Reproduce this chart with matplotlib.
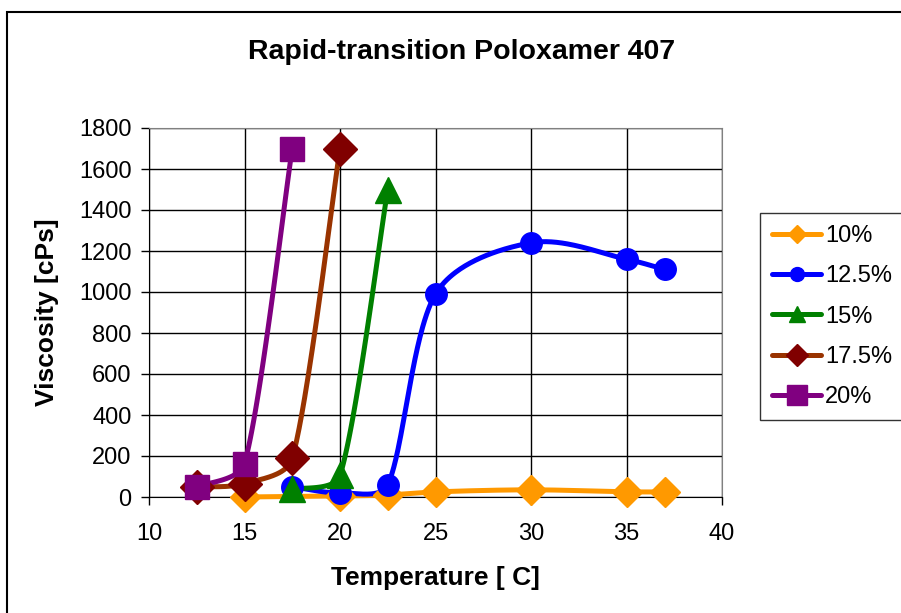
import numpy as np
import matplotlib
matplotlib.use("Agg")
import matplotlib.pyplot as plt
from matplotlib.patches import Rectangle

plt.rcParams['font.family'] = ['Liberation Sans', 'DejaVu Sans']

title = "Rapid-transition Poloxamer 407"
xlabel = "Temperature [ C]"
ylabel = "Viscosity [cPs]"

labels = ["10%", "12.5%", "15%", "17.5%", "20%"]
x_10 = [15, 20, 22.5, 25, 30, 35, 37]
y_10 = [0, 5, 10, 25, 35, 25, 25]
x_125 = [17.5, 20, 22.5, 25, 30, 35, 37]
y_125 = [50, 20, 60, 990, 1240, 1160, 1110]
x_15 = [17.5, 20, 22.5]
y_15 = [38, 105, 1500]
x_175 = [12.5, 15, 17.5, 20]
y_175 = [50, 65, 188, 1700]
x_20 = [12.5, 15, 17.5]
y_20 = [50, 163, 1700]

xticks = [10, 15, 20, 25, 30, 35, 40]
yticks = list(range(0, 2000, 200))

# (line colour, marker colour, marker, plot marker size, legend marker size)
series = [
    (x_10, y_10, '#FF9900', '#FF9900', 'D', 15, 9),
    (x_125, y_125, '#0000FF', '#0000FF', 'o', 15.5, 10),
    (x_15, y_15, '#008000', '#008000', '^', 19, 12),
    (x_175, y_175, '#993300', '#800000', 'D', 17, 11),
    (x_20, y_20, '#800080', '#800080', 's', 17, 14),
]

fig = plt.figure(figsize=(9.01, 6.13), dpi=100)
ax = fig.add_axes([149 / 901, 1 - 497 / 613, (722 - 149) / 901, (497 - 128) / 613])
ax.set_xlim(10, 40)
ax.set_ylim(0, 1800)


def smooth(xs, ys, n=60):
    """Excel-like Bezier smoothing through the data points (computed in pixel space)."""
    P = ax.transData.transform(np.column_stack([xs, ys]).astype(float))
    m = len(P)
    if m < 3:
        return xs, ys
    out = []
    for i in range(m - 1):
        p0 = P[i - 1] if i > 0 else P[i]
        p1 = P[i]
        p2 = P[i + 1]
        p3 = P[i + 2] if i + 2 < m else P[i + 1]
        d12 = np.linalg.norm(p2 - p1)
        t1 = p2 - p0
        t2 = p3 - p1
        n1 = np.linalg.norm(t1)
        n2 = np.linalg.norm(t2)
        l1 = min(n1 / 6.0, d12 / 3.0)
        l2 = min(n2 / 6.0, d12 / 3.0)
        c1 = p1 + (t1 / n1 * l1 if n1 > 0 else 0)
        c2 = p2 - (t2 / n2 * l2 if n2 > 0 else 0)
        t = np.linspace(0, 1, n)[:, None]
        seg = ((1 - t) ** 3) * p1 + 3 * ((1 - t) ** 2) * t * c1 + 3 * (1 - t) * t ** 2 * c2 + t ** 3 * p2
        if i > 0:
            seg = seg[1:]
        out.append(seg)
    S = ax.transData.inverted().transform(np.vstack(out))
    return S[:, 0], S[:, 1]


handles = []
for (xs, ys, lc, mc, mk, ms, lms), lab in zip(series, labels):
    sx, sy = smooth(xs, ys)
    ax.plot(sx, sy, color=lc, lw=3.6, solid_capstyle='round', solid_joinstyle='round',
            zorder=3, clip_on=False)
    ax.plot(xs, ys, linestyle='none', marker=mk, markersize=ms, color=mc,
            markeredgecolor=mc, zorder=4, clip_on=False)
    h, = ax.plot([], [], color=lc, lw=3.6, marker=mk, markersize=lms,
                 markerfacecolor=mc, markeredgecolor=mc, solid_capstyle='round')
    handles.append(h)

ax.set_xticks(xticks)
ax.set_yticks(yticks)
ax.grid(True, color='black', lw=1.0)
ax.set_axisbelow(True)
ax.tick_params(axis='both', labelsize=17, length=5.5, width=1, direction='out', color='black')
ax.tick_params(axis='x', pad=13.5)
ax.tick_params(axis='y', pad=7)
for s in ['top', 'right']:
    ax.spines[s].set_color('#808080')
for s in ['left', 'bottom']:
    ax.spines[s].set_color('black')

fig.text(462 / 901, 1 - 52 / 613, title, fontsize=20.5, fontweight='bold', ha='center', va='center')
fig.text(435 / 901, 1 - 578 / 613, xlabel, fontsize=19, fontweight='bold', ha='center', va='center')
fig.text(47 / 901, 1 - 312 / 613, ylabel, fontsize=19, fontweight='bold', ha='center', va='center', rotation=90)

leg = fig.legend(handles, labels, loc='upper left', bbox_to_anchor=(760 / 901, 1 - 213 / 613),
                 fontsize=17, frameon=True, fancybox=False, edgecolor='black',
                 handlelength=2.1, handletextpad=0.15, labelspacing=0.78, borderpad=0.5,
                 borderaxespad=0)
leg.get_frame().set_linewidth(1.0)

fig.patches.append(Rectangle((7 / 901, -0.05), 1.0, 1 - 12 / 613 + 0.05, transform=fig.transFigure,
                             fill=False, edgecolor='black', lw=1.5))

fig.savefig('out.png', dpi=100)
